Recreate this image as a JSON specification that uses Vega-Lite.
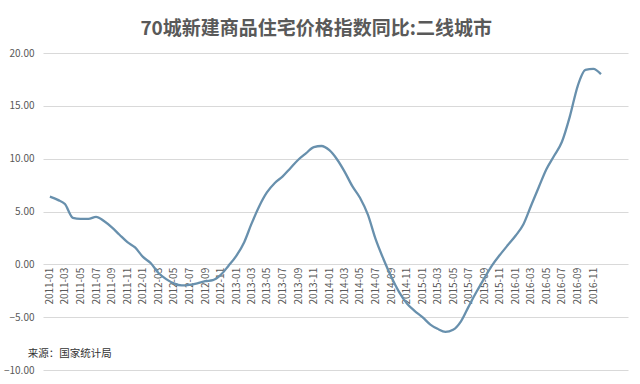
{
  "$schema": "https://vega.github.io/schema/vega-lite/v6.json",
  "width": 585,
  "height": 317,
  "autosize": {"type": "none"},
  "padding": {"left": 43, "top": 53, "right": 12, "bottom": 14},
  "background": "white",
  "title": {"text": "70城新建商品住宅价格指数同比:二线城市", "fontSize": 19, "font": "Noto Sans CJK SC", "fontWeight": "bold", "color": "#595959", "anchor": "middle", "frame": "bounds", "offset": 9},
  "config": {"view": {"stroke": null}, "font": "Noto Sans CJK SC"},
  "layer": [
    {
      "data": {"values": [
        {"month": "2011-01", "v": 6.4}, {"month": "2011-02", "v": 6.1}, {"month": "2011-03", "v": 5.7}, {"month": "2011-04", "v": 4.4},
        {"month": "2011-05", "v": 4.3}, {"month": "2011-06", "v": 4.3}, {"month": "2011-07", "v": 4.5}, {"month": "2011-08", "v": 4.1},
        {"month": "2011-09", "v": 3.5}, {"month": "2011-10", "v": 2.8}, {"month": "2011-11", "v": 2.1}, {"month": "2011-12", "v": 1.6},
        {"month": "2012-01", "v": 0.7}, {"month": "2012-02", "v": 0.1}, {"month": "2012-03", "v": -0.8}, {"month": "2012-04", "v": -1.4},
        {"month": "2012-05", "v": -1.8}, {"month": "2012-06", "v": -2.0}, {"month": "2012-07", "v": -1.95}, {"month": "2012-08", "v": -1.8},
        {"month": "2012-09", "v": -1.6}, {"month": "2012-10", "v": -1.5}, {"month": "2012-11", "v": -1.0}, {"month": "2012-12", "v": -0.15},
        {"month": "2013-01", "v": 0.8}, {"month": "2013-02", "v": 2.1}, {"month": "2013-03", "v": 3.8}, {"month": "2013-04", "v": 5.5},
        {"month": "2013-05", "v": 6.8}, {"month": "2013-06", "v": 7.7}, {"month": "2013-07", "v": 8.3}, {"month": "2013-08", "v": 9.1},
        {"month": "2013-09", "v": 9.9}, {"month": "2013-10", "v": 10.5}, {"month": "2013-11", "v": 11.1}, {"month": "2013-12", "v": 11.2},
        {"month": "2014-01", "v": 10.8}, {"month": "2014-02", "v": 9.9}, {"month": "2014-03", "v": 8.8}, {"month": "2014-04", "v": 7.4},
        {"month": "2014-05", "v": 6.3}, {"month": "2014-06", "v": 4.7}, {"month": "2014-07", "v": 2.4}, {"month": "2014-08", "v": 0.5},
        {"month": "2014-09", "v": -1.2}, {"month": "2014-10", "v": -2.6}, {"month": "2014-11", "v": -3.7}, {"month": "2014-12", "v": -4.4},
        {"month": "2015-01", "v": -5.0}, {"month": "2015-02", "v": -5.7}, {"month": "2015-03", "v": -6.1}, {"month": "2015-04", "v": -6.4},
        {"month": "2015-05", "v": -6.2}, {"month": "2015-06", "v": -5.4}, {"month": "2015-07", "v": -4.0}, {"month": "2015-08", "v": -2.6},
        {"month": "2015-09", "v": -1.3}, {"month": "2015-10", "v": -0.1}, {"month": "2015-11", "v": 0.9}, {"month": "2015-12", "v": 1.8},
        {"month": "2016-01", "v": 2.7}, {"month": "2016-02", "v": 3.8}, {"month": "2016-03", "v": 5.5}, {"month": "2016-04", "v": 7.3},
        {"month": "2016-05", "v": 9.0}, {"month": "2016-06", "v": 10.3}, {"month": "2016-07", "v": 11.6}, {"month": "2016-08", "v": 14.0},
        {"month": "2016-09", "v": 16.9}, {"month": "2016-10", "v": 18.4}, {"month": "2016-11", "v": 18.5}, {"month": "2016-12", "v": 18.0}
      ]},
      "mark": {"type": "line", "color": "#6890ad", "strokeWidth": 2.3, "interpolate": "monotone"},
      "encoding": {
        "x": {
          "field": "month", "type": "temporal",
          "scale": {"type": "utc", "domain": [{"year": 2010, "month": 12, "date": 5, "utc": true}, {"year": 2017, "month": 3, "date": 17, "utc": true}]},
          "axis": {
            "title": null, "orient": "bottom", "offset": -105.7, "grid": false, "domain": false, "ticks": false,
            "tickCount": {"interval": "month", "step": 2},
            "labelExpr": "utcyear(datum.value) > 2016 ? '' : utcFormat(datum.value, '%Y-%m')",
            "labelAngle": -90, "labelFontSize": 10, "labelColor": "#595959", "labelPadding": 3,
            "labelOverlap": false, "labelBound": false, "labelFlush": false
          }
        },
        "y": {
          "field": "v", "type": "quantitative",
          "scale": {"domain": [-10, 20], "nice": false, "zero": false},
          "axis": {
            "title": null, "values": [-10, -5, 0, 5, 10, 15, 20], "format": ".2f",
            "grid": true, "gridColor": "#d9d9d9", "gridWidth": 1, "domain": false, "ticks": false,
            "labelPadding": 9, "labelFontSize": 10, "labelColor": "#595959"
          }
        }
      }
    },
    {
      "data": {"values": [{"note": "来源：国家统计局"}]},
      "mark": {"type": "text", "align": "left", "baseline": "middle", "fontSize": 10.5, "color": "#333333", "font": "Noto Sans CJK SC"},
      "encoding": {
        "x": {"datum": {"year": 2010, "month": 10, "date": 6, "utc": true}, "type": "temporal"},
        "y": {"datum": -8.5, "type": "quantitative"},
        "text": {"field": "note", "type": "nominal"}
      }
    }
  ]
}
